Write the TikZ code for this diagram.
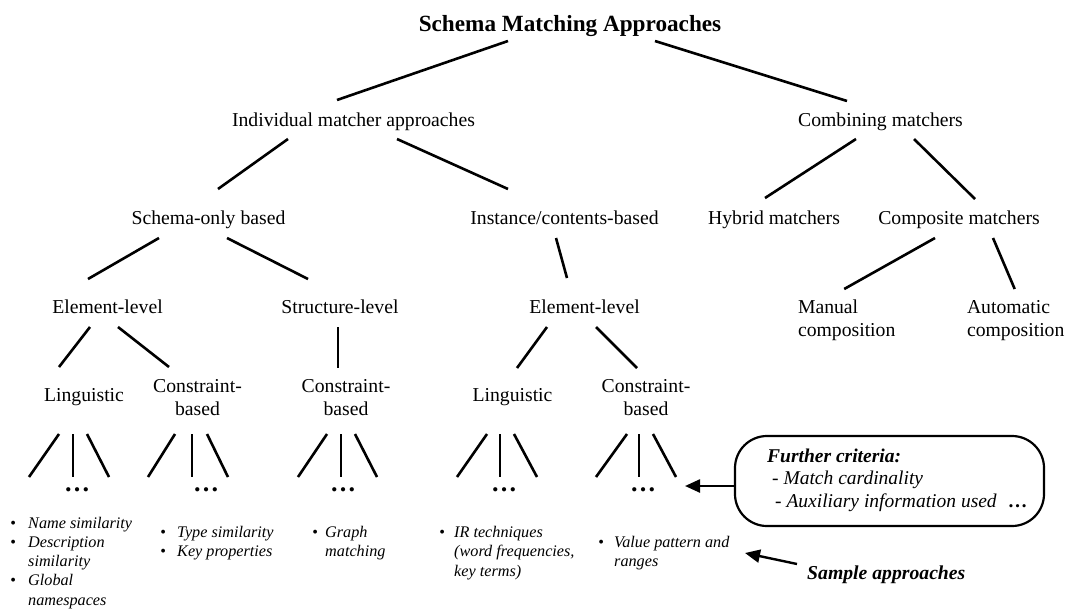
\documentclass[tikz,border=0pt]{standalone}
\usepackage{fontspec}
\setmainfont{Liberation Serif}
\usetikzlibrary{arrows.meta}
\newcommand\bul[1]{\leavevmode\llap{\textup{•}\hspace{#1}}}
\begin{document}
\begin{tikzpicture}[x=1pt,y=-1pt,
  lbl/.style={anchor=base, inner sep=0pt, font=\fontsize{19.7}{23.5}\selectfont, align=center},
  ttl/.style={anchor=base, inner sep=0pt, font=\fontsize{23.2}{27}\selectfont\bfseries},
  conn/.style={line width=2.6pt},
  dotsnode/.style={anchor=base, inner sep=0pt, font=\fontsize{26}{26}\selectfont\bfseries},
  blist/.style={anchor=base west, inner sep=0pt, align=left, font=\fontsize{16.2}{19.6}\selectfont\itshape},
  crittext/.style={anchor=base west, inner sep=0pt, align=left, font=\fontsize{19.5}{22.5}\selectfont\itshape},
  pill/.style={draw, line width=2.2pt, rounded corners=32pt, minimum width=309pt, minimum height=90pt, inner sep=0pt},
  arr/.style={line width=2.4pt, -{Triangle[length=15pt,width=13pt]}},
]
\useasboundingbox (0,0) rectangle (1068,611);
\fill[white] (0,0) rectangle (1068,611);
% nodes (multi-line nodes are placed by the baseline of their last line)
\node[ttl] (title) at (570,31) {Schema Matching Approaches};
\node[lbl] (indiv) at (353.5,126) {Individual matcher approaches};
\node[lbl] (comb) at (880.5,126) {Combining matchers};
\node[lbl] (schema) at (208.5,224) {Schema-only based};
\node[lbl] (inst) at (564.5,224) {Instance/contents-based};
\node[lbl] (hybrid) at (774,224) {Hybrid matchers};
\node[lbl] (compo) at (959,224) {Composite matchers};
\node[lbl] (el1) at (107.5,313) {Element-level};
\node[lbl] (struct) at (340,313) {Structure-level};
\node[lbl] (el2) at (584.5,313) {Element-level};
\node[lbl, align=left] (manual) at (846.7,336.5) {Manual\\composition};
\node[lbl, align=left] (auto) at (1015.7,336.5) {Automatic\\composition};
\node[lbl] (ling1) at (84,401) {Linguistic};
\node[lbl] (con1) at (197.5,415.5) {Constraint-\\based};
\node[lbl] (con2) at (346,415.5) {Constraint-\\based};
\node[lbl] (ling2) at (512.5,401) {Linguistic};
\node[lbl] (con3) at (646,415.5) {Constraint-\\based};
\node[dotsnode] (d1) at (77,491) {…};
\node[dotsnode] (d2) at (206,491) {…};
\node[dotsnode] (d3) at (343,491) {…};
\node[dotsnode] (d4) at (504,491) {…};
\node[dotsnode] (d5) at (643,491) {…};
% tree connectors
\draw[conn] ([xshift=-62pt,yshift=-10pt]title.base) -- ([xshift=-16.5pt,yshift=26pt]indiv.base);
\draw[conn] ([xshift=85pt,yshift=-10pt]title.base) -- ([xshift=-33.5pt,yshift=25pt]comb.base);
\draw[conn] ([xshift=-65.5pt,yshift=-13pt]indiv.base) -- ([xshift=9.5pt,yshift=35pt]schema.base);
\draw[conn] ([xshift=43.5pt,yshift=-13pt]indiv.base) -- ([xshift=-56.5pt,yshift=35pt]inst.base);
\draw[conn] ([xshift=-24.5pt,yshift=-13pt]comb.base) -- ([xshift=-9pt,yshift=26pt]hybrid.base);
\draw[conn] ([xshift=33.5pt,yshift=-13pt]comb.base) -- ([xshift=16pt,yshift=25pt]compo.base);
\draw[conn] ([xshift=-49.5pt,yshift=-14pt]schema.base) -- ([xshift=-19.5pt,yshift=34pt]el1.base);
\draw[conn] ([xshift=18.5pt,yshift=-14pt]schema.base) -- ([xshift=-32pt,yshift=34pt]struct.base);
\draw[conn] ([xshift=-8.5pt,yshift=-14pt]inst.base) -- ([xshift=-17.5pt,yshift=35pt]el2.base);
\draw[conn] ([xshift=-24pt,yshift=-14pt]compo.base) -- ([xshift=-2.5pt,yshift=47.5pt]manual.base);
\draw[conn] ([xshift=34pt,yshift=-14pt]compo.base) -- ([xshift=-1pt,yshift=47.5pt]auto.base);
\draw[conn] ([xshift=-17.5pt,yshift=-14pt]el1.base) -- ([xshift=-25pt,yshift=34pt]ling1.base);
\draw[conn] ([xshift=10.5pt,yshift=-14pt]el1.base) -- ([xshift=-28.5pt,yshift=48.5pt]con1.base);
\draw[conn] ([xshift=-2pt,yshift=-14pt]struct.base) -- ([xshift=-8pt,yshift=47.5pt]con2.base);
\draw[conn] ([xshift=-37.5pt,yshift=-14pt]el2.base) -- ([xshift=4.5pt,yshift=33pt]ling2.base);
\draw[conn] ([xshift=11.5pt,yshift=-14pt]el2.base) -- ([xshift=-9pt,yshift=47.5pt]con3.base);
% fans
\foreach \a/\b in {-25/-48,-11/-4,3/32}
  \draw[conn] ([xshift=\a pt,yshift=-33pt]ling1.base) -- ([xshift=\b pt,yshift=14pt]d1.base);
\foreach \a/\b in {-22.5/-58,-5.5/-14,9.5/22}
  \draw[conn] ([xshift=\a pt,yshift=-18.5pt]con1.base) -- ([xshift=\b pt,yshift=14pt]d2.base);
\foreach \a/\b in {-19/-45,-5/-2,9/34}
  \draw[conn] ([xshift=\a pt,yshift=-18.5pt]con2.base) -- ([xshift=\b pt,yshift=14pt]d3.base);
\foreach \a/\b in {-25.5/-47,-12.5/-4,1.5/33}
  \draw[conn] ([xshift=\a pt,yshift=-33pt]ling2.base) -- ([xshift=\b pt,yshift=14pt]d4.base);
\foreach \a/\b in {-19/-47,-7/-4,7/33}
  \draw[conn] ([xshift=\a pt,yshift=-18.5pt]con3.base) -- ([xshift=\b pt,yshift=14pt]d5.base);
% sample lists
\node[blist, font=\fontsize{16.2}{19.3}\selectfont\itshape] (l1) at (28,605.2) {\bul{12.2pt}Name similarity\\\bul{12.2pt}Description\\similarity\\\bul{12.2pt}Global\\namespaces};
\node[blist] (l2) at (177,556.6) {\bul{11.2pt}Type similarity\\\bul{11.2pt}Key properties};
\node[blist] (l3) at (325,556.6) {\bul{7.2pt}Graph\\matching};
\node[blist] (l4) at (454,576.2) {\bul{9.2pt}IR techniques\\(word frequencies,\\key terms)};
\node[blist] (l5) at (614,566.6) {\bul{10.2pt}Value pattern and\\ranges};
% further criteria box
\node[pill] (crit) at (889.5,481) {};
\node[crittext] (crittxt) at (767,507) {\textbf{Further criteria:}\\\hspace*{5pt}- Match cardinality\\\hspace*{8pt}- Auxiliary information used\hspace{11pt}\textbf{\textup{…}}};
\draw[arr] ([yshift=-5pt]crit.west) -- ([xshift=42pt,yshift=5pt]d5.base);
% sample approaches
\node[anchor=base west, inner sep=0pt, font=\fontsize{19.7}{23.5}\selectfont\bfseries\itshape] (sample) at (807,579) {Sample approaches};
\coordinate (sampletip) at (745,553);
\draw[arr] ([xshift=-10pt,yshift=15pt]sample.base west) -- (sampletip);
\end{tikzpicture}
\end{document}
